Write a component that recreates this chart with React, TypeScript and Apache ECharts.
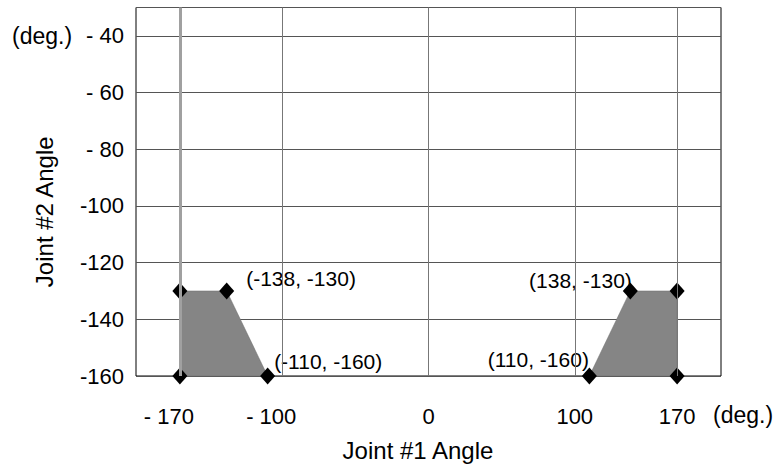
import React, { useEffect, useRef } from "react";
import * as echarts from "echarts";

// ---- data ----
const leftZone: [number, number][] = [
  [-170, -130],
  [-138, -130],
  [-110, -160],
  [-170, -160],
];
const rightZone: [number, number][] = [
  [110, -160],
  [138, -130],
  [170, -130],
  [170, -160],
];
const zones = [leftZone, rightZone];
const gridX = [-100, 0, 100, 170];
const limitX = -170;
const xTicks = [-170, -100, 0, 100, 170];
const yTicks = [-160, -140, -120, -100, -80, -60, -40];
const labelledPoints = ["-138,-130", "-110,-160", "138,-130", "110,-160"];
const xTitle = "Joint #1 Angle";
const yTitle = "Joint #2 Angle";
const unitText = "(deg.)";

const FONT = "'Liberation Sans', Arial, sans-serif";

const labelPlacement: Record<string, any> = {
  "-138,-130": { position: "right", distance: 12, offset: [0, -12] },
  "-110,-160": { position: "right", distance: 0, offset: [-1, -15] },
  "138,-130": { position: "left", distance: 0, offset: [9, -10] },
  "110,-160": { position: "left", distance: 0, offset: [7, -17] },
};

export default function App() {
  const ref = useRef<HTMLDivElement>(null);
  useEffect(() => {
    if (!ref.current) return;
    const chart = echarts.init(ref.current, null, { renderer: "svg" });

    const vertices = [...leftZone, ...rightZone];
    const scatterData = vertices.map((p) => {
      const key = p[0] + "," + p[1];
      if (labelledPoints.includes(key)) {
        const pl = labelPlacement[key];
        return {
          value: p,
          label: {
            show: true,
            position: pl.position,
            distance: pl.distance,
            offset: pl.offset,
            formatter: (prm: any) => `(${prm.value[0]}, ${prm.value[1]})`,
            fontSize: 21,
            fontFamily: FONT,
            color: "#000",
          },
        };
      }
      return { value: p };
    });

    const option: any = {
      animation: false,
      backgroundColor: "#fff",
      grid: {
        left: 136,
        right: 61,
        top: 7.5,
        bottom: 92,
        containLabel: false,
        outerBoundsMode: "none",
        show: true,
        borderColor: "#000",
        borderWidth: 1,
        backgroundColor: "transparent",
      },
      xAxis: {
        type: "value",
        min: -200,
        max: 200,
        interval: 10,
        name: xTitle,
        nameLocation: "middle",
        nameGap: 62,
        nameMoveOverlap: false,
        nameTextStyle: {
          fontSize: 24,
          fontFamily: FONT,
          color: "#000",
          padding: [0, 21, 0, 0],
        },
        axisLine: { show: false },
        axisTick: { show: false },
        splitLine: { show: false },
        axisLabel: {
          customValues: xTicks,
          margin: 29,
          fontSize: 22,
          fontFamily: FONT,
          color: "#000",
          formatter: (v: number) => {
            if (!xTicks.includes(v)) return "";
            if (v < 0) return "{n|- " + Math.abs(v) + "}";
            return "{p|" + v + "}";
          },
          rich: {
            n: { fontSize: 22, fontFamily: FONT, color: "#000", padding: [0, 22, 0, 0] },
            p: { fontSize: 22, fontFamily: FONT, color: "#000" },
          },
        },
      },
      yAxis: {
        type: "value",
        min: -160,
        max: -30,
        interval: 20,
        name: yTitle,
        nameLocation: "middle",
        nameRotate: 90,
        nameGap: 80,
        nameMoveOverlap: false,
        nameTextStyle: {
          fontSize: 24,
          fontFamily: FONT,
          color: "#000",
          padding: [0, 40, 0, 0],
        },
        axisLine: { show: false },
        axisTick: { show: false },
        splitLine: { show: true, lineStyle: { color: "#555", width: 1 } },
        axisLabel: {
          margin: 12,
          fontSize: 22,
          fontFamily: FONT,
          color: "#000",
          formatter: (v: number) => {
            if (!yTicks.includes(v)) return "";
            const a = Math.abs(v);
            const t = a >= 100 ? "-" + a : "- " + a;
            if (v === yTicks[yTicks.length - 1]) return "{u|" + unitText + "}{v|" + t + "}";
            return t;
          },
          rich: {
            u: { fontSize: 23, fontFamily: FONT, color: "#000", padding: [0, 14, 0, 0] },
            v: { fontSize: 22, fontFamily: FONT, color: "#000" },
          },
        },
      },
      graphic: [
        {
          type: "text",
          left: 713,
          top: 403,
          style: { text: unitText, fontSize: 23, fontFamily: FONT, fill: "#000" },
        },
      ],
      series: [
        {
          type: "line",
          data: [],
          z: 1,
          silent: true,
          markLine: {
            silent: true,
            symbol: ["none", "none"],
            label: { show: false },
            lineStyle: { type: "solid", color: "#777", width: 1 },
            data: [
              ...gridX.map((v) => ({ xAxis: v })),
              { xAxis: limitX, lineStyle: { type: "solid", color: "#a0a0a0", width: 3 } },
            ],
          },
        },
        {
          type: "custom",
          z: 3,
          clip: false,
          silent: true,
          data: zones.map((z) => z[0]),
          renderItem: (params: any, api: any) => {
            const zone = zones[params.dataIndex];
            const pts = zone.map((p) => api.coord(p));
            return {
              type: "polygon",
              shape: { points: pts },
              style: { fill: "#858585", stroke: "#6f6f6f", lineWidth: 0.5 },
            };
          },
        },
        {
          type: "scatter",
          z: 4,
          clip: false,
          symbol: "diamond",
          symbolSize: [15, 17],
          itemStyle: { color: "#000", opacity: 1 },
          data: scatterData,
        },
      ],
    };
    chart.setOption(option);
    return () => chart.dispose();
  }, []);
  return (
    <div
      ref={ref}
      style={{ position: "fixed", left: 0, top: 0, width: 782, height: 468 }}
    />
  );
}
